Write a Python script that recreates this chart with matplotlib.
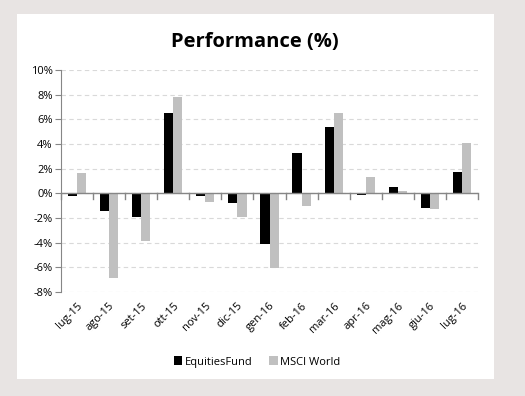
import numpy as np
import matplotlib
matplotlib.use("Agg")
from matplotlib import pyplot as plt
from matplotlib.patches import Rectangle
from matplotlib.ticker import FuncFormatter, MultipleLocator

months = ['lug-15', 'ago-15', 'set-15', 'ott-15', 'nov-15', 'dic-15', 'gen-16',
          'feb-16', 'mar-16', 'apr-16', 'mag-16', 'giu-16', 'lug-16']
fund = [-0.19, -1.41, -1.92, 6.53, -0.19, -0.76, -4.09, 3.28, 5.39, -0.11, 0.51, -1.17, 1.73]
msci = [1.65, -6.86, -3.85, 7.83, -0.68, -1.95, -6.02, -1.0, 6.52, 1.33, 0.19, -1.25, 4.09]

plt.rcParams['font.family'] = ['Open Sans', 'DejaVu Sans']

fig = plt.figure(figsize=(5.25, 3.96), dpi=100, facecolor='#e8e4e3')
fig.patches.append(Rectangle((17 / 525, 17 / 396), 477 / 525, 365 / 396,
                             transform=fig.transFigure, facecolor='white',
                             edgecolor='none', zorder=-10))

ax = fig.add_axes([61 / 525, 1 - 292 / 396, 417 / 525, 222 / 396])
ax.patch.set_alpha(0)

x = np.arange(len(months))
w = 0.285
ax.bar(x - w / 2, fund, w, color='black', label='EquitiesFund', zorder=3)
ax.bar(x + w / 2, msci, w, color='#c0c0c0', label='MSCI World', zorder=3)

ax.set_xlim(-0.5, len(months) - 0.5)
ax.set_ylim(-8, 10)
ax.yaxis.set_major_locator(MultipleLocator(2))
ax.yaxis.set_major_formatter(FuncFormatter(lambda v, p: '%d%%' % round(v)))
ax.grid(axis='y', color='#d9d9d9', linestyle=(0, (4, 3)), linewidth=0.8, zorder=0)

for s in ['top', 'right', 'bottom']:
    ax.spines[s].set_visible(False)
ax.spines['left'].set_color('#868686')
ax.axhline(0, color='#868686', linewidth=1, zorder=4)

ax.set_xticks(x)
ax.set_xticklabels(months, rotation=45, ha='right', rotation_mode='anchor', fontsize=8)
ax.tick_params(axis='x', length=0, pad=6)
for b in np.arange(-0.5, len(months), 1.0):
    ax.plot([b, b], [0, -0.45], color='#868686', linewidth=1, zorder=4, clip_on=False)
ax.tick_params(axis='y', labelsize=8, length=4, color='#868686', pad=2)

fig.text(255 / 525, 1 - 42 / 396, 'Performance (%)', ha='center', va='center',
         fontsize=14.5, fontweight='bold')
fig.legend(loc='center', bbox_to_anchor=(257 / 525, 1 - 362 / 396), ncol=2,
           frameon=False, fontsize=8, handlelength=0.8, handleheight=0.8,
           handletextpad=0.2, columnspacing=1.5)

fig.savefig('out.png', dpi=100, facecolor=fig.get_facecolor())
